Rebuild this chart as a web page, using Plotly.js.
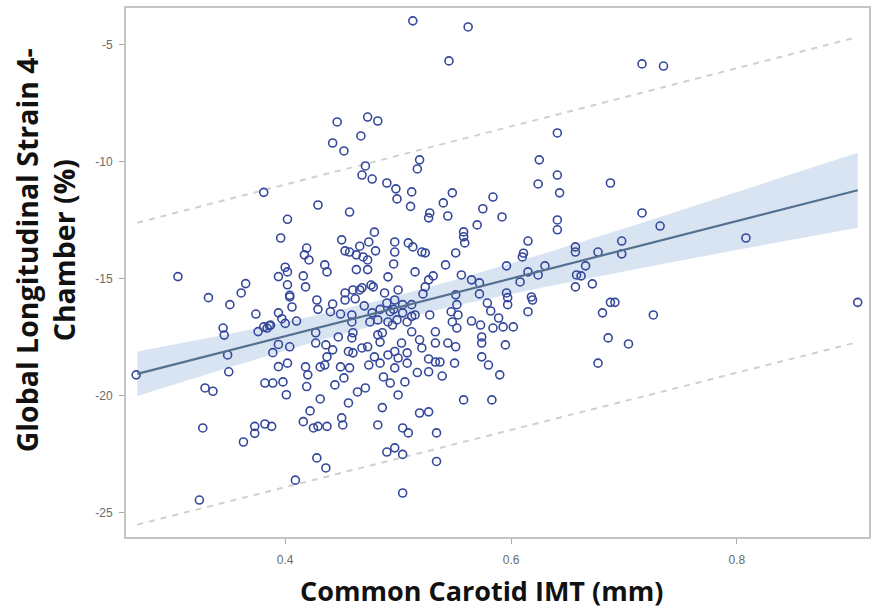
<!DOCTYPE html>
<html>
<head>
<meta charset="utf-8">
<script src="https://cdn.plot.ly/plotly-3.0.1.min.js"></script>
<style>html,body{margin:0;padding:0;background:#fff;} #chart{width:872px;height:610px;}</style>
</head>
<body>
<div id="chart"></div>
<script>
// Scatter points: Common Carotid IMT (mm) vs Global Longitudinal Strain 4-Chamber (%)
const imtValues = [
  0.268,0.305,0.381,0.402,0.396,0.400,0.394,0.402,0.365,0.361,0.332,0.402,0.404,0.351,0.345,0.346,
  0.349,0.350,0.374,0.376,0.384,0.386,0.394,0.397,0.400,0.406,0.410,0.394,0.404,0.389,0.394,0.402,
  0.382,0.389,0.398,0.401,0.329,0.336,0.327,0.363,0.373,0.373,0.382,0.388,0.324,0.409,0.387,0.381,
  0.446,0.473,0.482,0.467,0.442,0.452,0.471,0.468,0.477,0.490,0.498,0.499,0.512,0.511,0.429,0.457,
  0.479,0.641,0.519,0.517,0.625,0.641,0.624,0.643,0.548,0.540,0.528,0.527,0.544,0.584,0.575,0.592,
  0.570,0.558,0.641,0.641,0.513,0.562,0.545,0.615,0.611,0.610,0.630,0.624,0.615,0.608,0.596,0.657,
  0.657,0.658,0.657,0.556,0.565,0.572,0.542,0.551,0.558,0.559,0.450,0.453,0.457,0.466,0.474,0.480,
  0.469,0.473,0.463,0.463,0.473,0.497,0.497,0.509,0.513,0.521,0.524,0.496,0.515,0.491,0.417,0.419,
  0.421,0.435,0.437,0.416,0.418,0.453,0.466,0.476,0.478,0.488,0.500,0.524,0.531,0.527,0.522,0.572,
  0.596,0.551,0.618,
  0.404,0.428,0.442,0.440,0.449,0.460,0.453,0.462,0.468,0.470,0.477,0.490,0.497,0.496,0.504,0.504,
  0.512,0.493,0.484,0.459,0.459,0.475,0.482,0.491,0.499,0.508,0.429,0.427,0.427,0.436,0.447,0.460,
  0.459,0.442,0.456,0.460,0.468,0.473,0.482,0.486,0.484,0.495,0.503,0.497,
  0.512,0.515,0.528,0.552,0.547,0.553,0.548,0.552,0.565,0.573,0.579,0.582,0.597,0.597,0.619,0.615,
  0.589,0.593,0.602,0.595,0.574,0.574,0.584,0.533,0.533,0.519,0.521,0.544,0.551,0.512,
  0.418,0.420,0.419,0.431,0.422,0.416,0.425,0.429,0.437,0.444,0.452,0.449,0.457,0.435,0.431,0.437,
  0.456,0.450,0.451,0.464,0.471,0.474,0.484,0.487,0.493,0.500,0.506,0.508,0.486,0.482,0.504,0.509,
  0.490,0.497,0.504,0.428,0.436,0.491,0.479,0.500,0.497,0.508,
  0.517,0.527,0.539,0.533,0.537,0.550,0.527,0.574,0.580,0.590,0.558,0.583,0.519,0.527,0.534,0.534,
  0.504,
  0.716,0.735,0.688,0.716,0.732,0.808,0.698,0.698,0.677,0.666,0.662,0.672,0.907,0.688,0.692,0.681,
  0.726,0.686,0.704,0.677
];
const strainValues = [
  -19.1,-14.9,-11.3,-12.45,-13.25,-14.5,-14.9,-14.7,-15.2,-15.6,-15.8,-15.25,-15.7,-16.1,-17.1,-17.4,
  -18.25,-18.97,-16.5,-17.25,-17.1,-17.0,-16.45,-16.7,-16.9,-16.2,-16.8,-17.8,-17.9,-18.15,-18.75,-18.6,
  -19.45,-19.45,-19.4,-19.95,-19.66,-19.8,-21.37,-21.97,-21.6,-21.3,-21.2,-21.3,-24.45,-23.6,-16.97,-17.05,
  -8.29,-8.08,-8.25,-8.89,-9.19,-9.53,-10.17,-10.56,-10.73,-10.9,-11.15,-11.58,-11.28,-11.9,-11.84,-12.14,
  -13.0,-8.76,-9.91,-10.3,-9.91,-10.56,-10.94,-11.32,-11.32,-11.75,-12.18,-12.39,-12.31,-11.5,-12.0,-12.35,
  -12.69,-12.99,-12.48,-12.9,-3.97,-4.23,-5.68,-13.38,-13.9,-14.06,-14.44,-14.83,-14.7,-15.13,-14.44,-13.63,
  -13.85,-14.83,-15.34,-14.83,-15.04,-15.17,-14.4,-13.89,-13.2,-13.46,-13.33,-13.8,-13.85,-13.6,-13.42,-13.8,
  -14.06,-14.19,-13.97,-14.6,-14.6,-13.42,-13.85,-13.46,-13.63,-13.85,-13.89,-14.36,-14.7,-14.91,-13.97,-13.68,
  -14.19,-14.4,-14.7,-14.87,-15.34,-15.6,-15.47,-15.26,-15.34,-15.6,-15.47,-15.34,-14.87,-15.04,-15.64,-15.64,
  -15.6,-15.68,-15.77,
  -15.77,-15.9,-16.07,-16.4,-16.5,-15.47,-15.9,-15.85,-15.38,-16.15,-16.45,-16.03,-15.9,-16.3,-16.1,-16.45,
  -16.6,-16.4,-16.3,-16.54,-16.84,-16.84,-16.75,-16.84,-16.75,-16.84,-16.3,-17.3,-17.74,-17.82,-17.48,-17.3,
  -17.52,-18.03,-18.1,-18.16,-17.95,-17.9,-17.39,-17.3,-17.7,-16.97,-17.74,-18.1,
  -16.1,-16.54,-16.54,-16.1,-16.4,-16.54,-16.84,-17.1,-16.8,-16.97,-16.03,-16.37,-15.8,-16.1,-15.9,-16.4,
  -16.67,-17.05,-17.05,-17.82,-17.48,-17.74,-17.1,-17.26,-17.74,-17.6,-17.95,-17.74,-17.9,-17.26,
  -18.76,-19.1,-19.6,-20.13,-20.64,-21.1,-21.37,-21.3,-21.3,-19.53,-19.23,-18.76,-18.8,-18.68,-18.76,-18.33,
  -20.3,-20.94,-21.24,-19.83,-19.66,-18.68,-18.6,-19.19,-19.45,-19.96,-19.4,-18.6,-20.5,-21.24,-21.37,-21.58,
  -22.4,-22.22,-22.5,-22.65,-23.08,-18.25,-18.33,-18.38,-18.8,-18.16,
  -19.0,-18.97,-19.15,-18.55,-18.55,-18.6,-18.42,-18.33,-18.68,-19.1,-20.17,-20.17,-20.73,-20.68,-21.58,-22.8,
  -24.15,
  -5.81,-5.9,-10.9,-12.18,-12.74,-13.25,-13.38,-13.93,-13.85,-14.44,-14.87,-15.21,-16.0,-16.0,-16.0,-16.45,
  -16.54,-17.52,-17.78,-18.6
];

// Regression fit, confidence band and prediction limits
const fitX = [0.269, 0.907];
const fitY = [-19.06, -11.21];
const bandX = [0.269, 0.35, 0.43, 0.49, 0.55, 0.63, 0.71, 0.79, 0.907];
const bandLower = [-20.0, -18.79, -17.63, -16.85, -16.15, -15.34, -14.59, -13.85, -12.81];
const bandUpper = [-18.1, -17.35, -16.53, -15.84, -15.05, -13.90, -12.69, -11.45, -9.61];
const predX = [0.269, 0.907];
const predUpper = [-12.6, -4.66];
const predLower = [-25.5, -17.7];

// Axis ticks
const xTickVals = [0.4, 0.6, 0.8];
const xTickText = ["0.4", "0.6", "0.8"];
const yTickVals = [-25, -20, -15, -10, -5];
const yTickText = ["-25", "-20", "-15", "-10", "-5"];

const bandColor = '#d9e4f3';
const traces = [
  {x: bandX, y: bandLower, mode: 'lines', line: {width: 0, color: bandColor}, hoverinfo: 'skip', showlegend: false},
  {x: bandX, y: bandUpper, mode: 'lines', line: {width: 0, color: bandColor}, fill: 'tonexty', fillcolor: bandColor, hoverinfo: 'skip', showlegend: false},
  {x: predX, y: predUpper, mode: 'lines', line: {color: '#d0d0d0', width: 2, dash: '6px,6px'}, showlegend: false},
  {x: predX, y: predLower, mode: 'lines', line: {color: '#d0d0d0', width: 2, dash: '6px,6px'}, showlegend: false},
  {x: imtValues, y: strainValues, mode: 'markers', type: 'scatter',
   marker: {symbol: 'circle-open', size: 8, color: '#34479a', line: {width: 1.6, color: '#34479a'}}, showlegend: false},
  {x: fitX, y: fitY, mode: 'lines', line: {color: '#54708f', width: 2.2}, showlegend: false}
];

const tickFont = {family: 'Liberation Sans, Arial, sans-serif', size: 12, color: '#6a6a6a'};
const xTitleFont = {family: 'Open Sans, sans-serif', size: 27, color: '#111', weight: 700};
const yTitleFont = {family: 'Open Sans, sans-serif', size: 28.5, color: '#111', weight: 700};

const layout = {
  width: 872, height: 610,
  margin: {l: 126, r: 3, t: 8, b: 73},
  paper_bgcolor: '#fff', plot_bgcolor: '#fff',
  xaxis: {
    range: [0.259, 0.917], tickvals: xTickVals, ticktext: xTickText,
    showgrid: false, zeroline: false, showline: true, mirror: true,
    linecolor: '#c4c4c4', linewidth: 2, ticks: 'outside', ticklen: 5, tickcolor: '#aaa',
    tickfont: tickFont, ticklabelstandoff: 6
  },
  yaxis: {
    range: [-26.03, -3.42], tickvals: yTickVals, ticktext: yTickText,
    showgrid: false, zeroline: false, showline: true, mirror: true,
    linecolor: '#c4c4c4', linewidth: 2, ticks: 'outside', ticklen: 5, tickcolor: '#aaa',
    tickfont: tickFont, ticklabelstandoff: 4
  },
  annotations: [
    {text: 'Common Carotid IMT (mm)', xref: 'paper', yref: 'paper', x: 0.478, y: 0,
     xanchor: 'center', yanchor: 'middle', yshift: -53, showarrow: false, font: xTitleFont},
    {text: 'Global Longitudinal Strain 4-', xref: 'paper', yref: 'paper', x: 0, y: 0.542,
     xanchor: 'center', yanchor: 'middle', xshift: -99, textangle: -90, showarrow: false, font: yTitleFont},
    {text: 'Chamber (%)', xref: 'paper', yref: 'paper', x: 0, y: 0.542,
     xanchor: 'center', yanchor: 'middle', xshift: -62, textangle: -90, showarrow: false, font: yTitleFont}
  ]
};

Plotly.newPlot('chart', traces, layout, {displayModeBar: false, staticPlot: true});
</script>
</body>
</html>
